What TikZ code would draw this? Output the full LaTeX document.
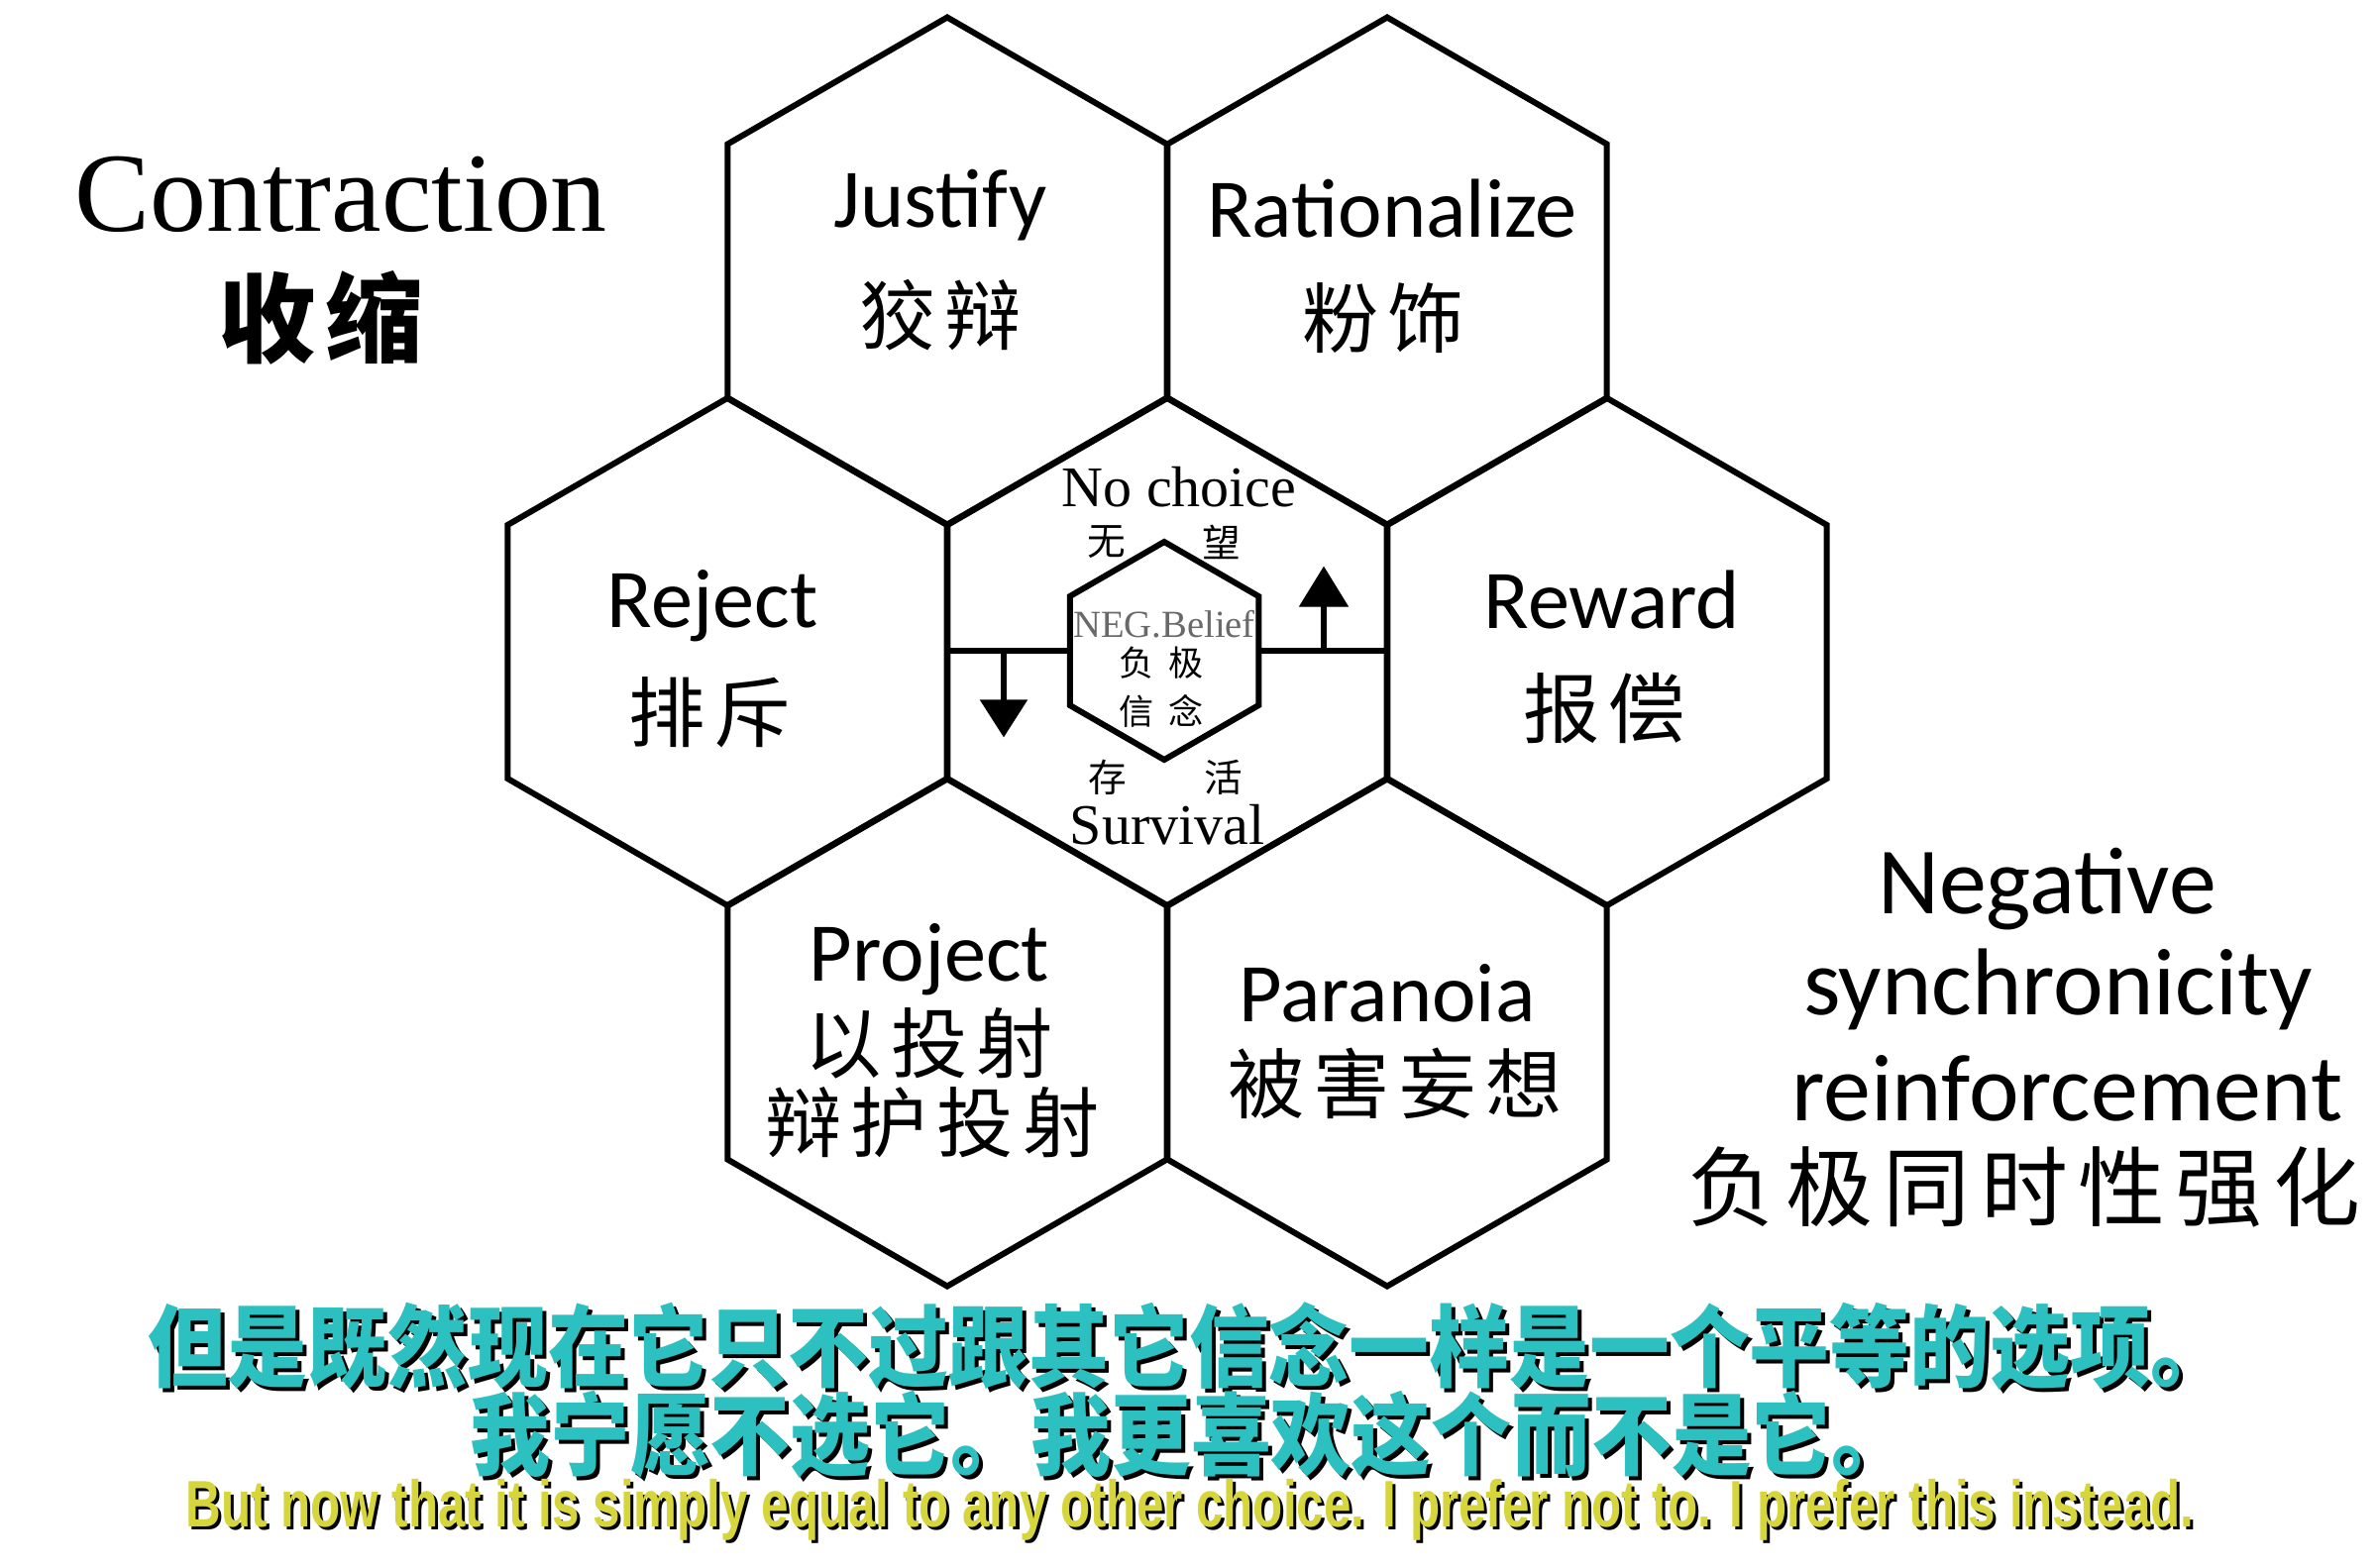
\documentclass[tikz,border=0pt]{standalone}
\usepackage{fontspec}
\usepackage{xcolor}
\usepackage{tikz}
\setmainfont{Carlito}
\newfontfamily\serif{Liberation Serif}
\newfontfamily\cjk{Noto Sans CJK SC}
\newfontfamily\subfont{Liberation Sans}
\definecolor{subteal}{RGB}{45, 192, 192}
\definecolor{subyellow}{RGB}{214, 214, 60}
\definecolor{beliefgrey}{RGB}{105, 105, 105}

\begin{document}
\begin{tikzpicture}[x=0.1mm,y=0.1mm,yscale=-1,xscale=1,
  hexline/.style={line width=0.6mm, line join=miter},
  hexlabel/.style={anchor=center, inner sep=0.75pt, font=\fontsize{24}{28}\selectfont},
  hexcjk/.style={anchor=center, inner sep=0.75pt, font=\cjk\fontsize{22}{26}\selectfont},
  midtext/.style={anchor=center, inner sep=0.75pt, font=\serif\fontsize{16.5}{18}\selectfont},
  midcjk/.style={anchor=center, inner sep=0.75pt, font=\cjk\fontsize{10}{12}\selectfont},
  sidetext/.style={anchor=center, inner sep=0.75pt, font=\fontsize{27.3}{30}\selectfont},
  subcn/.style={anchor=center, inner sep=0pt, font=\cjk\bfseries\fontsize{23}{26}\selectfont},
  suben/.style={anchor=center, inner sep=0pt, font=\subfont\bfseries\fontsize{18}{20}\selectfont}]
\useasboundingbox (0,0) rectangle (2400,1582);
\fill[white] (0,0) rectangle (2400,1582);

%Hexagon centres
\coordinate (cjust) at (956,273.5);
\coordinate (crat) at (1400,273.5);
\coordinate (crej) at (734,658);
\coordinate (cmid) at (1178,658);
\coordinate (crew) at (1622,658);
\coordinate (cproj) at (956,1042.5);
\coordinate (cpara) at (1400,1042.5);

%Shape: Regular Polygon
\foreach \c in {cjust,crat,crej,cmid,crew,cproj,cpara}
  \draw[hexline] (\c) +(90:256) -- +(150:256) -- +(210:256) -- +(270:256) -- +(330:256) -- +(30:256) -- cycle ;
%Shape: Regular Polygon (belief)
\coordinate (cbel) at (1175,657);
\draw[hexline] (cbel) +(90:110) -- +(150:110) -- +(210:110) -- +(270:110) -- +(330:110) -- +(30:110) -- cycle ;

%Straight Lines
\coordinate (bigL) at (956,657);
\coordinate (smallL) at (1080,657);
\coordinate (smallR) at (1270,657);
\coordinate (bigR) at (1400,657);
\draw[hexline] (bigL) -- (smallL) ;
\draw[hexline] (smallR) -- (bigR) ;
%Straight Lines
\coordinate (dnS) at (1013,657);
\coordinate (dnB) at (1013,708);
\coordinate (dnT) at (1013,743);
\draw[line width=0.55mm] (dnS) -- (dnB) ;
\draw [shift={(dnT)}] [fill=black] (-23,-36) -- (0,0) -- (23,-36) -- cycle ;
%Straight Lines
\coordinate (upS) at (1336,657);
\coordinate (upB) at (1336,612);
\coordinate (upT) at (1336,573);
\draw[line width=0.55mm] (upS) -- (upB) ;
\draw [shift={(upT)}] [fill=black] (-24,39) -- (0,0) -- (24,39) -- cycle ;

% Text Node
\node[hexlabel] (justify) at (949,207) {Justify};
\node[hexcjk] (justifycn) at (949,318) {狡\hspace{0.12em}辩};
% Text Node
\node[hexlabel] (rational) at (1405,211) {Rationalize};
\node[hexcjk] (rationalcn) at (1396,321) {粉\hspace{0.12em}饰};
% Text Node
\node[hexlabel] (reject) at (719,612) {Reject};
\node[hexcjk] (rejectcn) at (716,719) {排\hspace{0.12em}斥};
% Text Node
\node[hexlabel] (reward) at (1627,605) {Reward};
\node[hexcjk] (rewardcn) at (1619,715) {报\hspace{0.12em}偿};
% Text Node
\node[hexlabel] (project) at (938,969) {Project};
\node[hexcjk] (projectcn) at (938,1053) {以\hspace{0.12em}投\hspace{0.12em}射};
\node[hexcjk] (projectcn2) at (941,1133) {辩\hspace{0.12em}护\hspace{0.12em}投\hspace{0.12em}射};
% Text Node
\node[hexlabel] (paranoia) at (1400,1003) {Paranoia};
\node[hexcjk] (paranoiacn) at (1408,1094) {被\hspace{0.12em}害\hspace{0.12em}妄\hspace{0.12em}想};

% Text Node
\node[midtext] (nochoice) at (1190,492) {No choice};
\node[midcjk, font=\cjk\fontsize{11}{12}\selectfont] (wu) at (1117,547) {无};
\node[midcjk, font=\cjk\fontsize{11}{12}\selectfont] (wang) at (1233,547) {望};
\node[anchor=center, inner sep=0.75pt, text=beliefgrey, font=\serif\fontsize{11}{12}\selectfont] (belief) at (1175,630) {NEG.Belief};
\node[midcjk] (beliefcn) at (1172,669) {负\hspace{0.4em}极};
\node[midcjk] (beliefcn2) at (1172,718) {信\hspace{0.4em}念};
\node[midcjk, font=\cjk\fontsize{11}{12}\selectfont] (cun) at (1118,785) {存};
\node[midcjk, font=\cjk\fontsize{11}{12}\selectfont] (huo) at (1235,785) {活};
\node[midtext] (survival) at (1178,833) {Survival};

% Text Node
\node[anchor=center, inner sep=0.75pt, font=\serif\fontsize{32.4}{36}\selectfont] (contraction) at (344,196) {Contraction};
\node[anchor=center, inner sep=0.75pt, font=\cjk\bfseries\fontsize{28}{32}\selectfont] (contractcn) at (324,321) {收\hspace{0.1em}缩};

% Text Node
\node[sidetext] (negative) at (2066,898) {Negative};
\node[sidetext] (synchron) at (2077,999) {synchronicity};
\node[sidetext] (reinforce) at (2086,1099) {reinforcement};
\node[anchor=center, inner sep=0.75pt, font=\cjk\fontsize{25}{28}\selectfont] (negcn) at (2043,1198) {负\hspace{0.12em}极\hspace{0.12em}同\hspace{0.12em}时\hspace{0.12em}性\hspace{0.12em}强\hspace{0.12em}化};

% Text Node (subtitles)
\node[subcn, text=black] (sub1shadow) at (1204,1363) {\scalebox{1}[1.12]{但是既然现在它只不过跟其它信念一样是一个平等的选项。}};
\node[subcn, text=subteal] (sub1) at (1200,1359) {\scalebox{1}[1.12]{但是既然现在它只不过跟其它信念一样是一个平等的选项。}};
\node[subcn, text=black] (sub2shadow) at (1206,1452) {\scalebox{1}[1.12]{我宁愿不选它。我更喜欢这个而不是它。}};
\node[subcn, text=subteal] (sub2) at (1202,1448) {\scalebox{1}[1.12]{我宁愿不选它。我更喜欢这个而不是它。}};
\node[suben, text=black] (sub3shadow) at (1204,1527) {\scalebox{0.78}[1.05]{But now that it is simply equal to any other choice. I prefer not to. I prefer this instead.}};
\node[suben, text=subyellow] (sub3) at (1201,1524) {\scalebox{0.78}[1.05]{But now that it is simply equal to any other choice. I prefer not to. I prefer this instead.}};

\end{tikzpicture}
\end{document}
